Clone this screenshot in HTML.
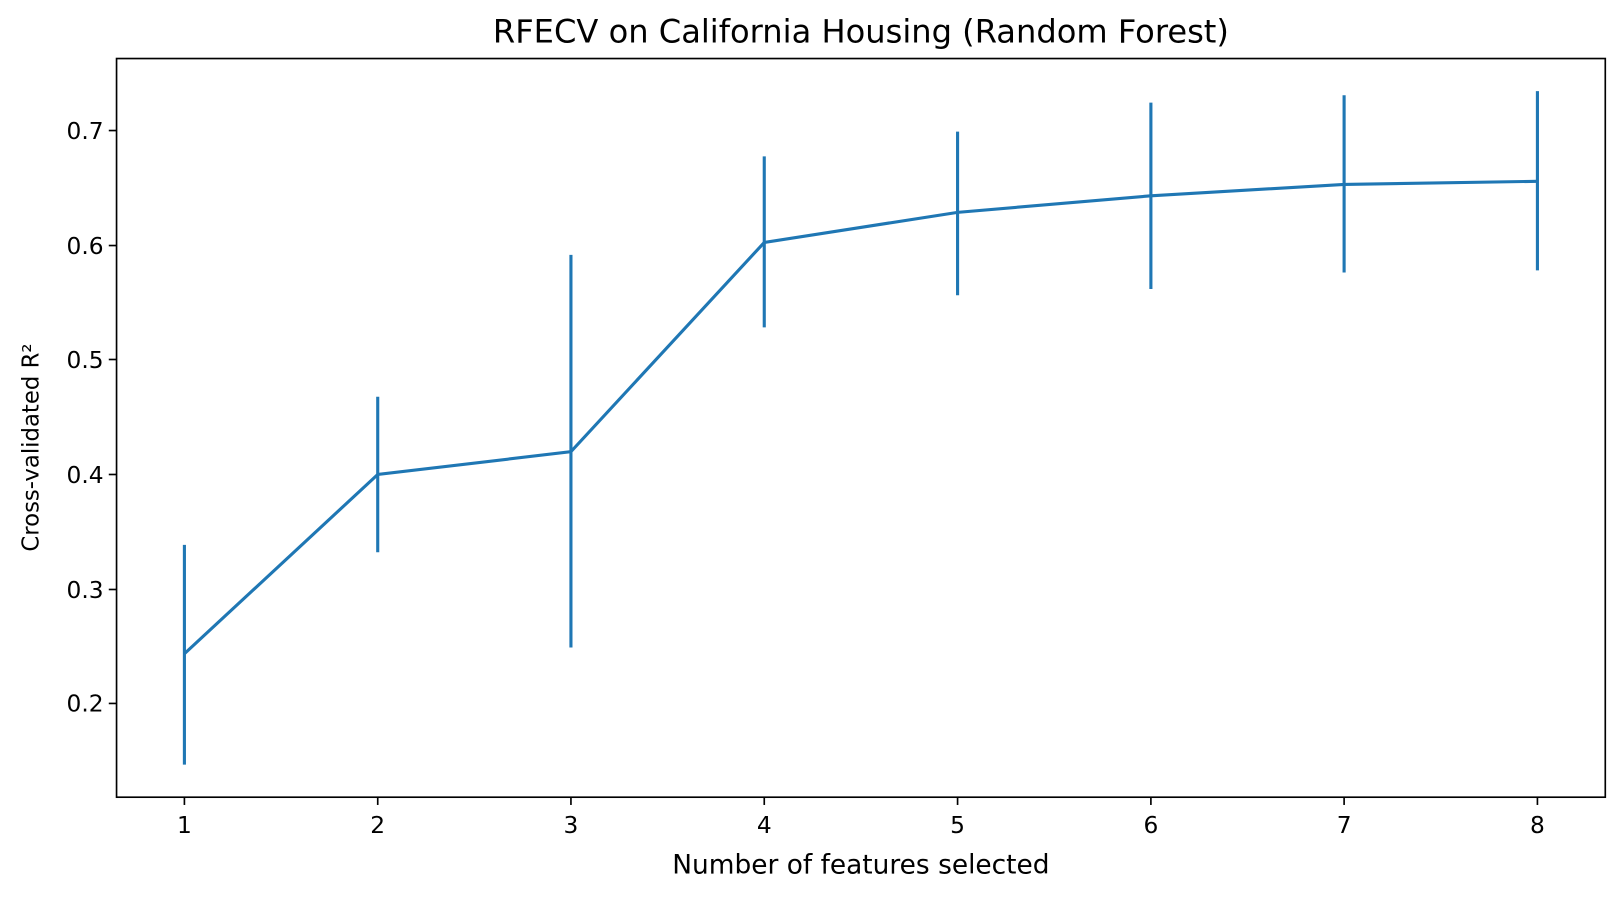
<!DOCTYPE html>
<html><head><meta charset="utf-8"><style>
body{margin:0;background:#fff;}
svg text{font-family:"DejaVu Sans","Liberation Sans",sans-serif;fill:#000;}
</style></head><body>
<svg width="1624" height="898" viewBox="0 0 1624 898" xmlns="http://www.w3.org/2000/svg">
<rect width="1624" height="898" fill="#fff"/>
<g transform="scale(1.036)">
<text x="831" y="41" font-size="31" text-anchor="middle">RFECV on California Housing (Random Forest)</text>
<g stroke="#1f77b4" stroke-width="3" fill="none">
<polyline points="178,631 364.6,458 551.1,436 737.7,234 924.3,205 1110.9,189 1297.4,178 1484,175"/>
<line x1="178" y1="526" x2="178" y2="738"/>
<line x1="364.6" y1="383" x2="364.6" y2="533"/>
<line x1="551.1" y1="246" x2="551.1" y2="625"/>
<line x1="737.7" y1="151" x2="737.7" y2="316"/>
<line x1="924.3" y1="127" x2="924.3" y2="285"/>
<line x1="1110.9" y1="99" x2="1110.9" y2="279"/>
<line x1="1297.4" y1="92" x2="1297.4" y2="263"/>
<line x1="1484" y1="88" x2="1484" y2="261"/>
</g>
<rect x="112.5" y="56.5" width="1437" height="713" fill="none" stroke="#000" stroke-width="1.6"/>
<g stroke="#000" stroke-width="1.6">
<line x1="178" y1="770" x2="178" y2="777"/><line x1="364.6" y1="770" x2="364.6" y2="777"/>
<line x1="551.1" y1="770" x2="551.1" y2="777"/><line x1="737.7" y1="770" x2="737.7" y2="777"/>
<line x1="924.3" y1="770" x2="924.3" y2="777"/><line x1="1110.9" y1="770" x2="1110.9" y2="777"/>
<line x1="1297.4" y1="770" x2="1297.4" y2="777"/><line x1="1484" y1="770" x2="1484" y2="777"/>
<line x1="105" y1="126" x2="112" y2="126"/><line x1="105" y1="237" x2="112" y2="237"/>
<line x1="105" y1="347" x2="112" y2="347"/><line x1="105" y1="458" x2="112" y2="458"/>
<line x1="105" y1="569" x2="112" y2="569"/><line x1="105" y1="679" x2="112" y2="679"/>
</g>
<g font-size="22.5" text-anchor="middle">
<text x="178" y="804">1</text><text x="364.6" y="804">2</text><text x="551.1" y="804">3</text>
<text x="737.7" y="804">4</text><text x="924.3" y="804">5</text><text x="1110.9" y="804">6</text>
<text x="1297.4" y="804">7</text><text x="1484" y="804">8</text>
</g>
<g font-size="22.5" text-anchor="end">
<text x="100" y="134">0.7</text><text x="100" y="245">0.6</text><text x="100" y="355">0.5</text>
<text x="100" y="466">0.4</text><text x="100" y="577">0.3</text><text x="100" y="687">0.2</text>
</g>
<text x="831" y="843" font-size="25.5" text-anchor="middle">Number of features selected</text>
<text transform="translate(37,432) rotate(-90)" font-size="22" text-anchor="middle">Cross-validated R²</text>
</g>
</svg>
</body></html>
